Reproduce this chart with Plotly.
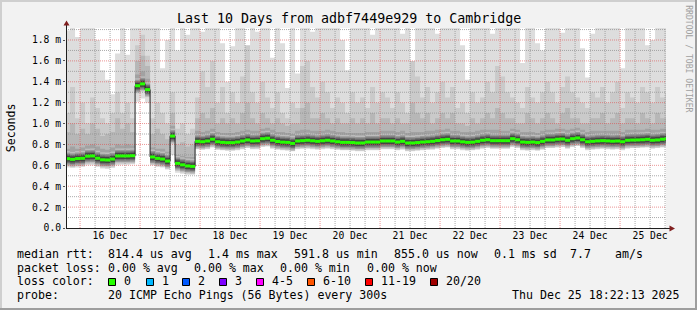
import pandas as pd
import plotly.graph_objects as go

FONT = "DejaVu Sans Mono"

# ---------------- data ----------------
title = "Last 10 Days from adbf7449e929 to Cambridge"
bin_start = "2025-12-15 18:00"
bin_freq = "2h"
range_start = "2025-12-15 18:22:13"
range_end = "2025-12-25 18:22:13"

# median RTT (ms) per 2h bin
rtt_median = [
    0.664, 0.657, 0.665, 0.667, 0.688, 0.690, 0.668, 0.653, 0.651, 0.660, 0.690, 0.690, 0.690, 0.692,
    1.362, 1.380, 1.325,
    0.680, 0.667, 0.660, 0.641,
    0.880,
    0.619, 0.605, 0.594, 0.590,
    0.830, 0.826, 0.833, 0.850, 0.826, 0.820, 0.817, 0.817, 0.823, 0.833,
    0.843, 0.833, 0.835, 0.855, 0.860, 0.840, 0.828, 0.822, 0.820, 0.810,
    0.833, 0.836, 0.840, 0.835, 0.830, 0.835, 0.840, 0.833, 0.826, 0.820,
    0.820, 0.818, 0.814, 0.814, 0.823, 0.823, 0.823, 0.833, 0.833, 0.833,
    0.823, 0.830, 0.814, 0.814, 0.818, 0.823, 0.826, 0.830, 0.837, 0.845,
    0.849, 0.833, 0.833, 0.825, 0.820, 0.822, 0.830, 0.840, 0.845, 0.836,
    0.836, 0.836, 0.836, 0.855, 0.845, 0.823, 0.820, 0.823, 0.818, 0.830,
    0.843, 0.843, 0.850, 0.852, 0.840, 0.855, 0.862, 0.845, 0.826, 0.830,
    0.834, 0.836, 0.834, 0.831, 0.833, 0.826, 0.840, 0.842, 0.843, 0.845,
    0.849, 0.840, 0.843, 0.850, 0.855,
]
# lowest ping per bin
rtt_min = [
    0.580, 0.575, 0.580, 0.585, 0.600, 0.600, 0.585, 0.570, 0.565, 0.575, 0.600, 0.605, 0.605, 0.610,
    1.210, 1.240, 1.200,
    0.600, 0.585, 0.580, 0.560,
    0.700,
    0.530, 0.520, 0.510, 0.510,
    0.755, 0.750, 0.755, 0.770, 0.750, 0.745, 0.740, 0.740, 0.745, 0.755,
    0.765, 0.755, 0.755, 0.775, 0.780, 0.760, 0.750, 0.745, 0.740, 0.735,
    0.755, 0.760, 0.760, 0.755, 0.750, 0.755, 0.760, 0.755, 0.750, 0.745,
    0.745, 0.740, 0.735, 0.735, 0.745, 0.745, 0.745, 0.755, 0.755, 0.755,
    0.745, 0.750, 0.735, 0.735, 0.740, 0.745, 0.750, 0.750, 0.760, 0.765,
    0.770, 0.755, 0.755, 0.745, 0.740, 0.745, 0.750, 0.760, 0.765, 0.760,
    0.760, 0.760, 0.760, 0.775, 0.765, 0.745, 0.740, 0.745, 0.740, 0.750,
    0.765, 0.765, 0.770, 0.775, 0.760, 0.775, 0.785, 0.765, 0.745, 0.750,
    0.755, 0.760, 0.755, 0.750, 0.755, 0.745, 0.760, 0.765, 0.765, 0.770,
    0.770, 0.760, 0.765, 0.770, 0.775,
]
# upper quartile of pings per bin
rtt_q3 = [
    0.76, 0.78, 0.76, 0.77, 0.79, 0.80, 0.78, 0.76, 0.75, 0.77, 0.80, 0.79, 0.80, 0.79,
    1.47, 1.50, 1.43,
    0.77, 0.76, 0.76, 0.73,
    0.98,
    0.70, 0.69, 0.68, 0.68,
    0.93, 0.92, 0.93, 0.95, 0.92, 0.91, 0.91, 0.91, 0.92, 0.93,
    0.94, 0.93, 0.93, 0.95, 0.96, 0.94, 0.92, 0.92, 0.91, 0.90,
    0.93, 0.94, 0.94, 0.93, 0.93, 0.93, 0.94, 0.93, 0.92, 0.92,
    0.91, 0.91, 0.91, 0.91, 0.92, 0.92, 0.92, 0.93, 0.93, 0.93,
    0.92, 0.93, 0.91, 0.92, 0.92, 0.92, 0.93, 0.93, 0.94, 0.94,
    0.95, 0.93, 0.93, 0.92, 0.92, 0.92, 0.93, 0.94, 0.94, 0.94,
    0.94, 0.93, 0.93, 0.95, 0.94, 0.92, 0.92, 0.92, 0.91, 0.93,
    0.94, 0.94, 0.95, 0.95, 0.94, 0.95, 0.96, 0.94, 0.92, 0.93,
    0.93, 0.93, 0.93, 0.93, 0.93, 0.92, 0.94, 0.94, 0.94, 0.94,
    0.95, 0.94, 0.94, 0.95, 0.95,
]
# 18th of 20 sorted pings
rtt_p18 = [
    0.92, 1.00, 0.90, 0.95, 0.90, 1.00, 0.95, 0.88, 0.90, 0.92, 1.05, 0.95, 1.00, 0.92,
    1.60, 1.65, 1.55,
    0.90, 0.95, 0.90, 0.85,
    1.10,
    0.80, 0.82, 0.78, 0.80,
    1.05, 1.10, 1.05, 1.15, 1.00, 1.05, 1.00, 1.05, 1.00, 1.10,
    1.20, 1.05, 1.00, 1.10, 1.05, 1.00, 1.05, 1.00, 0.98, 1.00,
    1.00, 1.15, 1.20, 1.05, 1.05, 1.10, 1.05, 1.00, 1.05, 1.00,
    1.00, 1.05, 1.00, 1.05, 1.00, 1.10, 1.00, 1.05, 1.05, 1.00,
    1.05, 1.00, 1.00, 1.20, 1.10, 1.05, 1.10, 1.00, 1.05, 1.10,
    1.05, 1.10, 1.00, 1.00, 0.98, 1.05, 1.00, 1.05, 1.10, 1.05,
    1.15, 1.10, 1.05, 1.05, 1.00, 1.00, 1.10, 1.05, 1.00, 1.05,
    1.10, 1.05, 1.00, 1.10, 1.15, 1.05, 1.05, 1.00, 1.00, 1.05,
    1.05, 1.10, 1.00, 1.05, 1.10, 1.00, 1.05, 1.05, 1.00, 1.10,
    1.05, 1.00, 1.10, 1.05, 1.05,
]
# 19th of 20 sorted pings
rtt_p19 = [
    1.10, 1.35, 1.05, 1.20, 1.00, 1.25, 1.15, 1.05, 1.00, 1.10, 1.30, 1.10, 1.20, 1.05,
    1.75, 1.85, 1.65,
    1.05, 1.20, 1.10, 1.00,
    1.30,
    0.95, 1.00, 0.90, 0.95,
    1.25, 1.50, 1.35, 1.60, 1.20, 1.35, 1.10, 1.30, 1.20, 1.45,
    1.75, 1.30, 1.20, 1.40, 1.25, 1.15, 1.30, 1.10, 1.05, 1.20,
    1.15, 1.55, 1.60, 1.35, 1.25, 1.40, 1.30, 1.15, 1.25, 1.20,
    1.10, 1.30, 1.20, 1.25, 1.15, 1.35, 1.20, 1.30, 1.25, 1.15,
    1.30, 1.20, 1.10, 1.60, 1.45, 1.25, 1.35, 1.20, 1.30, 1.40,
    1.25, 1.35, 1.15, 1.20, 1.10, 1.30, 1.20, 1.25, 1.40, 1.30,
    1.55, 1.45, 1.30, 1.25, 1.20, 1.15, 1.35, 1.25, 1.20, 1.30,
    1.40, 1.30, 1.20, 1.35, 1.45, 1.30, 1.25, 1.20, 1.15, 1.30,
    1.25, 1.35, 1.20, 1.30, 1.40, 1.15, 1.30, 1.25, 1.20, 1.35,
    1.30, 1.20, 1.35, 1.25, 1.30,
]
# highest ping per bin (values above the chart top are clipped)
rtt_max = [
    1.89, 1.95, 1.83, 1.95, 1.95, 1.95, 1.80, 1.51, 1.42, 1.28, 1.67, 1.95, 1.66, 1.95,
    1.95, 1.95, 1.95,
    1.95, 1.95, 1.53, 1.80,
    1.95,
    1.70, 1.95, 1.85, 1.95,
    1.95, 1.88, 1.95, 1.95, 1.95, 1.77, 1.40, 1.74, 1.95, 1.95,
    1.64, 1.95, 1.88, 1.95, 1.95, 1.63, 1.95, 1.77, 1.34, 1.95,
    1.48, 1.95, 1.95, 1.88, 1.95, 1.95, 1.95, 1.95, 1.95, 1.80,
    1.51, 1.95, 1.95, 1.95, 1.95, 1.85, 1.95, 1.95, 1.95, 1.95,
    1.95, 1.86, 1.95, 1.40, 1.95, 1.95, 1.95, 1.95, 1.86, 1.95,
    1.95, 1.95, 1.95, 1.75, 1.42, 1.95, 1.95, 1.95, 1.95, 1.86,
    1.95, 1.95, 1.95, 1.95, 1.95, 1.58, 1.95, 1.95, 1.77, 1.70,
    1.95, 1.95, 1.95, 1.87, 1.95, 1.95, 1.95, 1.72, 1.44, 1.86,
    1.95, 1.95, 1.95, 1.95, 1.95, 1.53, 1.95, 1.95, 1.95, 1.95,
    1.75, 1.80, 1.95, 1.95, 1.95,
]

day_ticks = ["2025-12-16 12:00", "2025-12-17 12:00", "2025-12-18 12:00", "2025-12-19 12:00",
             "2025-12-20 12:00", "2025-12-21 12:00", "2025-12-22 12:00", "2025-12-23 12:00",
             "2025-12-24 12:00", "2025-12-25 12:00"]
day_labels = ["16 Dec", "17 Dec", "18 Dec", "19 Dec", "20 Dec",
              "21 Dec", "22 Dec", "23 Dec", "24 Dec", "25 Dec"]
y_ticks = [0.0, 0.2, 0.4, 0.6, 0.8, 1.0, 1.2, 1.4, 1.6, 1.8]
y_labels = ["0.0", "0.2 m", "0.4 m", "0.6 m", "0.8 m", "1.0 m", "1.2 m", "1.4 m", "1.6 m", "1.8 m"]
y_minor = [0.1, 0.3, 0.5, 0.7, 0.9, 1.1, 1.3, 1.5, 1.7, 1.9]
y_top = 1.915

legend_rows = [
    [("median rtt:", 15.5), ("814.4 us avg", 106.5), ("1.4 ms max", 206.5), ("591.8 us min", 292.5),
     ("855.0 us now", 392.5), ("0.1 ms sd", 492.5), ("7.7", 568.5), ("am/s", 613.5)],
    [("packet loss:", 15.5), ("0.00 % avg", 106.5), ("0.00 % max", 192.5), ("0.00 % min", 278.5),
     ("0.00 % now", 365.5)],
    [("loss color:", 15.5)],
    [("probe:", 15.5), ("20 ICMP Echo Pings (56 Bytes) every 300s", 106.5)],
]
loss_labels = ["0", "1", "2", "3", "4-5", "6-10", "11-19", "20/20"]
loss_colors = ["#26ff00", "#00b8ff", "#0059ff", "#7e00ff", "#ff00ff", "#ff5500", "#ff0000", "#a00000"]
loss_box_x = [108, 146, 182, 219, 256, 307, 365, 430]
stamp = "Thu Dec 25 18:22:13 2025"
credit = "RRDTOOL / TOBI OETIKER"

# ---------------- layout geometry ----------------
W, H = 697, 310
ML, MT, PW, PH = 66, 28, 600, 200


def fx(X):
    return (X - ML) / PW


def fy(Y):
    return (MT + PH - Y) / PH


n = len(rtt_median)
edges = [t.strftime("%Y-%m-%d %H:%M:%S") for t in pd.date_range(bin_start, periods=n + 1, freq=bin_freq)]


def step(vals):
    return edges, list(vals) + [vals[-1]]


def segs(vals):
    xs, ys = [], []
    for i, v in enumerate(vals):
        xs += [edges[i], edges[i + 1], None]
        ys += [v, v, None]
    return xs, ys


fig = go.Figure()

# smoke bands
bands = [(rtt_min, rtt_max, "#dddddd"), (rtt_median, rtt_p19, "#cacaca"),
         (rtt_median, rtt_p18, "#b7b7b7"), (rtt_median, rtt_q3, "#a2a2a2")]
for lo, hi, col in bands:
    x, y = step(lo)
    fig.add_trace(go.Scatter(x=x, y=y, mode="lines", line=dict(width=0, shape="hv"),
                             hoverinfo="skip", showlegend=False))
    x, y = step(hi)
    fig.add_trace(go.Scatter(x=x, y=y, mode="lines", line=dict(width=0, shape="hv"),
                             fill="tonexty", fillcolor=col, hoverinfo="skip", showlegend=False))

# dark smoke core around the median
for w, col in [(15, "#bdbdbd"), (12, "#969696"), (9, "#6e6e6e"), (6, "#444444")]:
    x, y = segs(rtt_median)
    fig.add_trace(go.Scatter(x=x, y=y, mode="lines", line=dict(width=w, color=col),
                             hoverinfo="skip", showlegend=False))

# grid (drawn over the smoke, as rrdtool does)
grid_times = pd.date_range("2025-12-16 00:00", range_end, freq="6h")
for major in (False, True):
    xs, ys = [], []
    for t in grid_times:
        if (t.hour == 0) == major:
            s = t.strftime("%Y-%m-%d %H:%M:%S")
            xs += [s, s, None]
            ys += [0, y_top, None]
    col = "rgba(222,79,79,0.6)" if major else "rgba(143,143,143,0.75)"
    fig.add_trace(go.Scatter(x=xs, y=ys, mode="lines", line=dict(width=1, color=col, dash="1px,1px"),
                             hoverinfo="skip", showlegend=False))
for vals, col in [(y_minor, "rgba(143,143,143,0.75)"), (y_ticks[1:], "rgba(222,79,79,0.6)")]:
    xs, ys = [], []
    for v in vals:
        xs += [range_start, range_end, None]
        ys += [v, v, None]
    fig.add_trace(go.Scatter(x=xs, y=ys, mode="lines", line=dict(width=1, color=col, dash="1px,1px"),
                             hoverinfo="skip", showlegend=False))

# median line + loss-coloured band
x, y = step(rtt_median)
fig.add_trace(go.Scatter(x=x, y=y, mode="lines", line=dict(width=1, color="#202020", shape="hv"),
                         hoverinfo="skip", showlegend=False))
x, y = segs(rtt_median)
fig.add_trace(go.Scatter(x=x, y=y, mode="lines", line=dict(width=3, color=loss_colors[0]),
                         hoverinfo="skip", showlegend=False))

# ---------------- decorations ----------------
shapes = []
# frame shading
shapes.append(dict(type="rect", xref="paper", yref="paper", x0=fx(0), x1=fx(W), y0=fy(0), y1=fy(2),
                   fillcolor="#cfcfcf", line=dict(width=0), layer="above"))
shapes.append(dict(type="rect", xref="paper", yref="paper", x0=fx(0), x1=fx(2), y0=fy(0), y1=fy(H),
                   fillcolor="#cfcfcf", line=dict(width=0), layer="above"))
shapes.append(dict(type="rect", xref="paper", yref="paper", x0=fx(W - 2), x1=fx(W), y0=fy(0), y1=fy(H),
                   fillcolor="#9e9e9e", line=dict(width=0), layer="above"))
shapes.append(dict(type="rect", xref="paper", yref="paper", x0=fx(0), x1=fx(W), y0=fy(H - 2), y1=fy(H),
                   fillcolor="#9e9e9e", line=dict(width=0), layer="above"))
# axes
shapes.append(dict(type="line", xref="paper", yref="paper", x0=fx(66.5), x1=fx(66.5), y0=fy(228.5), y1=fy(24),
                   line=dict(color="#1f1f1f", width=1), layer="above"))
shapes.append(dict(type="line", xref="paper", yref="paper", x0=fx(66), x1=fx(670), y0=fy(228.5), y1=fy(228.5),
                   line=dict(color="#1f1f1f", width=1), layer="above"))
# arrows
shapes.append(dict(type="path", xref="paper", yref="paper",
                   path=f"M {fx(66.5)} {fy(20.5)} L {fx(63.5)} {fy(25.5)} L {fx(69.5)} {fy(25.5)} Z",
                   fillcolor="#801f1f", line=dict(width=0), layer="above"))
shapes.append(dict(type="path", xref="paper", yref="paper",
                   path=f"M {fx(675)} {fy(228.5)} L {fx(669.5)} {fy(225.5)} L {fx(669.5)} {fy(231.5)} Z",
                   fillcolor="#801f1f", line=dict(width=0), layer="above"))
# loss colour boxes
for bx, col in zip(loss_box_x, loss_colors):
    shapes.append(dict(type="rect", xref="paper", yref="paper", x0=fx(bx + 0.5), x1=fx(bx + 7.5),
                       y0=fy(285.5), y1=fy(278.5), fillcolor=col, line=dict(color="#000000", width=1),
                       layer="above"))

annotations = []


def txt(s, X, Y, size, anchor="left", angle=0, color="#000000"):
    annotations.append(dict(text=s.replace(" ", "\u00a0"), x=fx(X), y=fy(Y), xref="paper", yref="paper",
                            xanchor=anchor, yanchor="middle", showarrow=False, textangle=angle,
                            borderpad=0, font=dict(family=FONT, size=size, color=color)))


txt(title, 348.5, 18.7, 13.3, anchor="center")
txt("Seconds", 10.8, 127.5, 11.6, anchor="center", angle=-90)
txt(credit, 688.3, 58.5, 8.1, anchor="center", angle=90, color="#a0a0a0")
row_y = [254, 267.5, 281, 294.5]
for row, ry in zip(legend_rows, row_y):
    for s, X in row:
        txt(s, X, ry, 11.6)
for bx, lab in zip(loss_box_x, loss_labels):
    txt(lab, bx + 14.5, row_y[2], 11.6)
txt(stamp, 680.5, row_y[3], 11.6, anchor="right")

fig.update_layout(
    width=W, height=H, autosize=False,
    margin=dict(l=ML, r=W - ML - PW, t=MT, b=H - MT - PH, pad=0),
    paper_bgcolor="#f2f2f2", plot_bgcolor="#ffffff",
    showlegend=False, shapes=shapes, annotations=annotations,
    xaxis=dict(type="date", range=[range_start, range_end], tickmode="array", tickvals=day_ticks,
               ticktext=day_labels, showgrid=False, zeroline=False, showline=False, ticks="",
               tickfont=dict(family=FONT, size=9.7, color="#000000"), fixedrange=True),
    yaxis=dict(range=[0, y_top], tickmode="array", tickvals=y_ticks, ticktext=y_labels,
               showgrid=False, zeroline=False, showline=False, ticks="outside", ticklen=2,
               tickcolor="#555555", tickfont=dict(family=FONT, size=9.7, color="#000000"),
               fixedrange=True),
)

fig.write_html("out.html")
